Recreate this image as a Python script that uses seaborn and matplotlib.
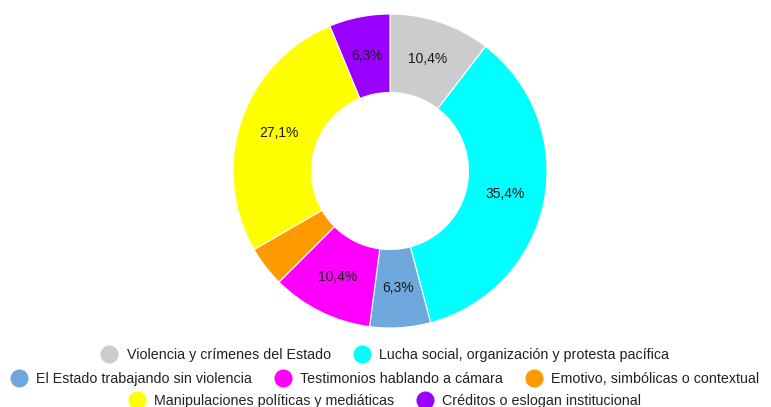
import math
import matplotlib
matplotlib.use("Agg")
import matplotlib.pyplot as plt
from matplotlib.lines import Line2D
import seaborn as sns

# Chart data
categorias = [
    "Violencia y crímenes del Estado",
    "Lucha social, organización y protesta pacífica",
    "El Estado trabajando sin violencia",
    "Testimonios hablando a cámara",
    "Emotivo, simbólicas o contextual",
    "Manipulaciones políticas y mediáticas",
    "Créditos o eslogan institucional",
]
valores = [5, 17, 3, 5, 2, 13, 3]
colores = ["#cccccc", "#00ffff", "#6fa8dc", "#ff00ff", "#ff9900", "#ffff00", "#9900ff"]
filas_leyenda = [[0, 1], [2, 3, 4], [5, 6]]

sns.set_theme(style="white")
plt.rcParams['font.family'] = ['Liberation Sans', 'DejaVu Sans']

fig = plt.figure(figsize=(7.71, 4.07), dpi=100)
ax = fig.add_axes([233 / 771, 79 / 407, 314 / 771, 314 / 407])


def etiqueta(p):
    # small slices get no label; round half up, comma decimal
    if p < 5:
        return ""
    r = math.floor(p * 10 + 0.5) / 10
    return f"{r:.1f}%".replace(".", ",")


wedges, textos, autotextos = ax.pie(
    valores,
    colors=colores,
    startangle=90,
    counterclock=False,
    autopct=etiqueta,
    pctdistance=0.75,
    wedgeprops=dict(width=0.5, edgecolor="white", linewidth=0.8),
    textprops=dict(fontsize=10, color="#1a1a1a"),
)
ax.set_xlim(-1, 1)
ax.set_ylim(-1, 1)
ax.set_aspect("equal")
ax.axis("off")

# Legend: three centered rows
ys = [355, 379, 401]
for fila, y in zip(filas_leyenda, ys):
    handles = [
        Line2D([0], [0], marker="o", linestyle="", markersize=12,
               markerfacecolor=colores[i], markeredgecolor=colores[i])
        for i in fila
    ]
    etiquetas = [categorias[i] for i in fila]
    fig.legend(handles, etiquetas, loc="center", bbox_to_anchor=(0.5, 1 - y / 407),
               ncol=len(fila), frameon=False, fontsize=10.3, handletextpad=0.72,
               columnspacing=1.65, handlelength=1.0, borderpad=0, borderaxespad=0,
               labelcolor="#222222")

fig.savefig("out.png", dpi=100, facecolor="white")
